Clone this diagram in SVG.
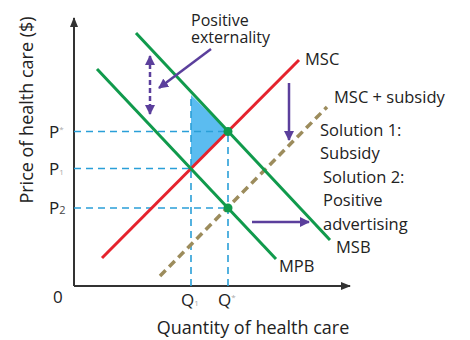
<svg xmlns="http://www.w3.org/2000/svg" width="470" height="340" viewBox="0 0 470 340">
<defs>
<marker id="ah" viewBox="0 0 10 10" refX="9" refY="5" markerWidth="4" markerHeight="4" orient="auto-start-reverse"><path d="M0,0 L10,5 L0,10 z" fill="#5b3f9c"/></marker>
<marker id="ax" viewBox="0 0 10 10" refX="9" refY="5" markerWidth="5" markerHeight="5" orient="auto"><path d="M0,1 L10,5 L0,9 z" fill="#333"/></marker>
<style>
text{font-family:"Open Sans","Noto Sans",sans-serif;fill:#222;}
.lbl{font-size:16.5px;}
.top{font-size:16px;}
.ax{font-size:17px;}
.tiny{font-size:8px;fill:#aaa;}
.grn{stroke:#109a4c;stroke-width:3;fill:none;}
.red{stroke:#e5232d;stroke-width:3;fill:none;}
.olv{stroke:#9c8c5c;stroke-width:3.5;stroke-dasharray:8 5;fill:none;}
.cy{stroke:#2a9fd8;stroke-width:1.6;stroke-dasharray:7 5;fill:none;}
.pur{stroke:#5b3f9c;stroke-width:2.5;fill:none;}
</style>
</defs>
<g id="axes">
<line x1="74" y1="286" x2="74" y2="18" stroke="#333" stroke-width="2" marker-end="url(#ax)"/>
<line x1="74" y1="286" x2="350" y2="286" stroke="#333" stroke-width="2" marker-end="url(#ax)"/>
<text class="ax" x="53" y="303">0</text>
<text x="253" y="334" text-anchor="middle" font-size="18">Quantity of health care</text>
<text transform="translate(33,110) rotate(-90)" text-anchor="middle" font-size="18">Price of health care ($)</text>
</g>
<g id="surplus"><polygon points="191,95 228,131.5 191,168.5" fill="#5bbcf0"/></g>
<g id="connectors">
<line class="cy" x1="74" y1="131.5" x2="228" y2="131.5"/>
<line class="cy" x1="74" y1="168.5" x2="191" y2="168.5"/>
<line class="cy" x1="74" y1="208" x2="228" y2="208"/>
<line class="cy" x1="191" y1="286" x2="191" y2="96"/>
<line class="cy" x1="228" y1="286" x2="228" y2="131.5"/>
<line class="olv" x1="160" y1="276" x2="327" y2="107"/>
<line class="red" x1="102" y1="258" x2="299" y2="60"/>
<line class="grn" x1="136" y1="33" x2="330" y2="240"/>
<line class="grn" x1="97" y1="69" x2="276" y2="259"/>
<line class="pur" x1="150" y1="56" x2="150" y2="114" stroke-dasharray="5 3" marker-start="url(#ah)" marker-end="url(#ah)"/>
<line class="pur" x1="211" y1="49" x2="159" y2="88" marker-end="url(#ah)"/>
<line class="pur" x1="289" y1="83" x2="289" y2="140" marker-end="url(#ah)"/>
<line class="pur" x1="252" y1="222" x2="309" y2="222" marker-end="url(#ah)"/>
</g>
<g id="points">
<circle cx="228" cy="131.5" r="4.5" fill="#109a4c"/>
<circle cx="228" cy="208" r="4.5" fill="#109a4c"/>
</g>
<g id="labels">
<text class="top" x="191" y="26">Positive<tspan x="191" dy="17">externality</tspan></text>
<text class="lbl" x="305" y="65">MSC</text>
<text class="lbl" x="334" y="103">MSC + subsidy</text>
<text class="lbl" x="320" y="136">Solution 1:</text>
<text class="lbl" x="320" y="159">Subsidy</text>
<text class="lbl" x="323" y="183">Solution 2:</text>
<text class="lbl" x="323" y="206">Positive</text>
<text class="lbl" x="323" y="230">advertising</text>
<text class="lbl" x="336" y="253">MSB</text>
<text class="lbl" x="279" y="272">MPB</text>
<text class="ax" x="49" y="138">P<tspan class="tiny" dy="-6">*</tspan></text>
<text class="ax" x="49" y="175">P<tspan class="tiny">1</tspan></text>
<text class="ax" x="49" y="214">P<tspan font-size="11" fill="#444">2</tspan></text>
<text class="ax" x="181" y="306">Q<tspan class="tiny">1</tspan></text>
<text class="ax" x="218" y="306">Q<tspan class="tiny" dy="-6">*</tspan></text>
</g>
</svg>
